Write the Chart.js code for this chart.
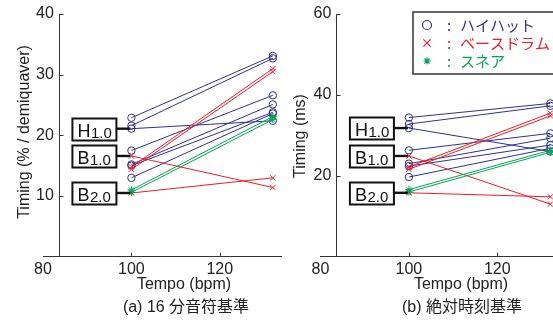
<!DOCTYPE html>
<html><head><meta charset="utf-8">
<script src="https://cdn.jsdelivr.net/npm/chart.js@4.4.1/dist/chart.umd.min.js"></script>
<style>
html,body{margin:0;padding:0;background:#fff;overflow:hidden;width:553px;height:321px;}
#wrap{position:relative;width:553px;height:321px;overflow:hidden;background:#fff;}
canvas{position:absolute;top:0;}
#ca{left:0;} #cb{left:290px;}
</style></head><body>
<div id="wrap"><canvas id="ca" width="300" height="321"></canvas><canvas id="cb" width="300" height="321"></canvas></div>
<script>
// ---- data ----
const tempos = [100, 132];
const xTicks = [80, 100, 120];
// (a) timing as % of a 16th note
const hihatA = [[22.9,33.1],[21.6,32.7],[21.1,22.4],[17.5,26.6],[15.2,25.1],[15.0,23.8],[13.0,23.6]];
const bassA  = [[16.6,11.4],[10.5,13.0],[14.8,31.0],[14.4,30.5]];
const snareA = [[10.6,22.6],[11.0,23.1]];
const yTicksA = [10, 20, 30, 40];
// (b) timing in ms
const hihatB = [[34.4,37.9],[32.8,37.3],[31.8,26.0],[26.3,30.5],[23.0,29.3],[22.4,27.6],[19.7,26.8]];
const bassB  = [[24.9,13.0],[15.8,14.8],[22.2,35.5],[21.6,34.8]];
const snareB = [[16.0,25.8],[16.6,26.3]];
const yTicksB = [20, 40, 60];
const legendLabels = ['ハイハット', 'ベースドラム', 'スネア'];
const calloutMain = ['H', 'B', 'B'];
const calloutSub = ['1.0', '1.0', '2.0'];
const calloutSeries = ['hihat', 'bass', 'bass'];
const calloutIndex = [2, 0, 1];
const xTitle = 'Tempo (bpm)';
const yTitleA = 'Timing (% / demiquaver)';
const yTitleB = 'Timing (ms)';
const captionA = '(a) 16 分音符基準';
const captionB = '(b) 絶対時刻基準';

const BLUE = '#2E3192', RED = '#ED1C24', GREEN = '#00A651';
const LATIN = '"Liberation Sans", Arial, Helvetica, sans-serif';
const MIXED = '"Liberation Sans", "Noto Sans CJK JP", sans-serif';
const AXIS = '#333333', TEXT = '#222222';

function ds(vals, color, style) {
  return {
    data: tempos.map((t, i) => ({x: t, y: vals[i]})),
    borderColor: color, backgroundColor: 'rgba(0,0,0,0)', borderWidth: 1,
    pointStyle: style, pointRadius: 3.7, pointBorderColor: color, pointBorderWidth: 1,
    pointBackgroundColor: 'rgba(0,0,0,0)', showLine: true, fill: false, tension: 0, clip: false
  };
}

// y axis line + inward tick marks
const ticksPlugin = {
  id: 'inTicks',
  afterDraw(chart) {
    const ctx = chart.ctx, xs = chart.scales.x, ys = chart.scales.y;
    const axX = Math.round(xs.getPixelForValue(chart.options.plugins.texts.yAxisAt)) + 0.5;
    const {top, bottom} = chart.chartArea;
    ctx.save(); ctx.strokeStyle = AXIS; ctx.lineWidth = 1;
    ctx.beginPath();
    ctx.moveTo(axX, top); ctx.lineTo(axX, bottom);
    xs.ticks.forEach(t => { if (t.value === xs.min) return; const p = Math.round(xs.getPixelForValue(t.value)) + 0.5; ctx.moveTo(p, bottom); ctx.lineTo(p, bottom - 4); });
    ys.ticks.forEach(t => { const p = Math.round(ys.getPixelForValue(t.value)) + 0.5; ctx.moveTo(axX, p); ctx.lineTo(axX + 4, p); });
    ctx.stroke(); ctx.restore();
  }
};

const textPlugin = {
  id: 'texts',
  afterDraw(chart, args, o) {
    const ctx = chart.ctx;
    ctx.save(); ctx.fillStyle = TEXT; ctx.textAlign = 'center'; ctx.textBaseline = 'middle';
    ctx.font = '16px ' + LATIN;
    ctx.fillText(o.xTitle, o.xTitleX, o.xTitleY);
    ctx.save(); ctx.translate(o.yTitleX, o.yTitleY); ctx.rotate(-Math.PI / 2);
    ctx.fillText(o.yTitle, 0, 0); ctx.restore();
    ctx.font = '16px ' + MIXED;
    ctx.fillText(o.caption, o.captionX, o.captionY);
    ctx.restore();
  }
};

const calloutPlugin = {
  id: 'callouts',
  afterDatasetsDraw(chart, args, o) {
    const ctx = chart.ctx;
    ctx.save();
    calloutMain.forEach((m, i) => {
      const di = o.offsets[calloutSeries[i]] + calloutIndex[i];
      const pt = chart.getDatasetMeta(di).data[0];
      const w = 44, h = 22, right = pt.x - 15, left = right - w, top = Math.round(pt.y - h / 2) + 0.5;
      ctx.strokeStyle = '#111'; ctx.lineWidth = 2.4;
      ctx.beginPath(); ctx.moveTo(right, pt.y); ctx.lineTo(pt.x - 1, pt.y); ctx.stroke();
      ctx.fillStyle = '#fff'; ctx.fillRect(left, top, w, h);
      ctx.lineWidth = 2; ctx.strokeRect(left, top, w, h);
      ctx.fillStyle = '#111'; ctx.textAlign = 'left'; ctx.textBaseline = 'alphabetic';
      ctx.font = '18px ' + LATIN;
      const x0 = left + 5;
      ctx.fillText(m, x0, top + h / 2 + 7);
      const mw = ctx.measureText(m).width;
      ctx.font = '15px ' + LATIN;
      ctx.fillText(calloutSub[i], x0 + mw + 0.5, top + h / 2 + 8);
    });
    ctx.restore();
  }
};

const legendPlugin = {
  id: 'jpLegend',
  afterDraw(chart, args, o) {
    if (!o.show) return;
    const ctx = chart.ctx;
    ctx.save();
    ctx.fillStyle = '#fff'; ctx.fillRect(o.left, o.top, o.width, o.height);
    ctx.strokeStyle = '#333'; ctx.lineWidth = 1.5; ctx.strokeRect(o.left, o.top, o.width, o.height);
    const colors = [BLUE, RED, GREEN];
    legendLabels.forEach((lab, i) => {
      const y = o.top + 13 + i * 18, mx = o.left + 14;
      ctx.strokeStyle = colors[i]; ctx.lineWidth = 1.2; ctx.beginPath();
      if (i === 0) { ctx.arc(mx, y, 4.5, 0, Math.PI * 2); }
      else if (i === 1) { const r = 3.6; ctx.moveTo(mx - r, y - r); ctx.lineTo(mx + r, y + r); ctx.moveTo(mx + r, y - r); ctx.lineTo(mx - r, y + r); }
      else { const r = 3.6; for (let k = 0; k < 4; k++) { const a = k * Math.PI / 4; ctx.moveTo(mx - r * Math.cos(a), y - r * Math.sin(a)); ctx.lineTo(mx + r * Math.cos(a), y + r * Math.sin(a)); } }
      ctx.stroke();
      ctx.fillStyle = colors[i]; ctx.textBaseline = 'middle'; ctx.textAlign = 'left';
      ctx.font = '15px "Noto Sans CJK JP", sans-serif';
      ctx.fillText(':', mx + 20, y);
      ctx.fillText(lab, mx + 33, y);
    });
    ctx.restore();
  }
};

function makeChart(id, hh, bd, sn, yMax, yTicks, pad, texts, legend) {
  const datasets = [];
  sn.forEach(v => datasets.push(ds(v, GREEN, 'star')));
  bd.forEach(v => datasets.push(ds(v, RED, 'crossRot')));
  hh.forEach(v => datasets.push(ds(v, BLUE, 'circle')));
  const offsets = {snare: 0, bass: sn.length, hihat: sn.length + bd.length};
  return new Chart(document.getElementById(id), {
    type: 'scatter',
    data: {datasets},
    options: {
      responsive: false, animation: false, events: [],
      layout: {padding: pad},
      plugins: {legend: {display: false}, tooltip: {enabled: false},
        texts, callouts: {offsets}, jpLegend: legend},
      scales: {
        x: {type: 'linear', min: 80, max: 134, position: 'bottom',
          afterBuildTicks: s => { s.ticks = xTicks.map(v => ({value: v})); },
          afterFit: s => { s.height = 30; },
          ticks: {font: {size: 16, family: LATIN}, color: TEXT, padding: 3, maxRotation: 0},
          grid: {display: false, drawTicks: false},
          border: {display: true, color: AXIS, width: 1}},
        y: {type: 'linear', min: 0, max: yMax, position: {x: texts.yLabelAt},
          afterBuildTicks: s => { s.ticks = yTicks.map(v => ({value: v})); },
          ticks: {font: {size: 16, family: LATIN}, color: TEXT, padding: 0},
          grid: {display: false, drawTicks: false},
          border: {display: false}}
      }
    },
    plugins: [ticksPlugin, calloutPlugin, textPlugin, legendPlugin]
  });
}

makeChart('ca', hihatA, bassA, snareA, 40, yTicksA,
  {left: 43, right: 18.3, top: 14, bottom: 34.3},
  {yAxisAt: 83.6, yLabelAt: 82.45, xTitle, xTitleX: 184, xTitleY: 285, yTitle: yTitleA, yTitleX: 25, yTitleY: 132,
   caption: captionA, captionX: 186, captionY: 308},
  {show: false});
makeChart('cb', hihatB, bassB, snareB, 60, yTicksB,
  {left: 30.5, right: 30.8, top: 14, bottom: 34.3},
  {yAxisAt: 83.6, yLabelAt: 82.45, xTitle, xTitleX: 171, xTitleY: 285, yTitle: yTitleB, yTitleX: 11, yTitleY: 136,
   caption: captionB, captionX: 172, captionY: 308},
  {show: true, left: 123, top: 12, width: 200, height: 62});
</script>
</body></html>
